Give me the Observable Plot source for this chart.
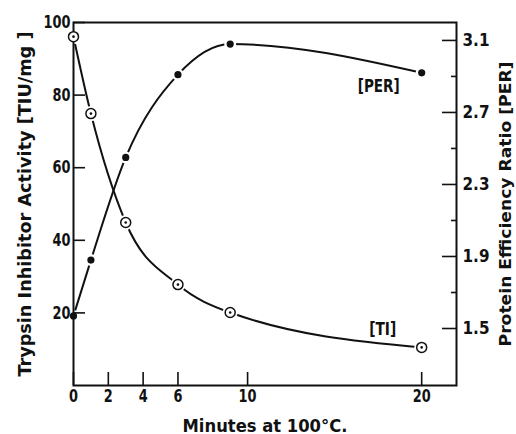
<!DOCTYPE html>
<html>
<head>
<meta charset="utf-8">
<script src="https://cdn.jsdelivr.net/npm/d3@7"></script>
<script src="https://cdn.jsdelivr.net/npm/@observablehq/plot@0.6"></script>
<style>
  html, body { margin: 0; padding: 0; background: #fff; }
  #chart svg { display: block; }
</style>
</head>
<body>
<div id="chart"></div>
<script>
// ---- data ----
const minutes = [0, 1, 3, 6, 9, 20];
const tiValues = [96.1, 74.9, 44.9, 27.8, 20.1, 10.5];      // TIU/mg (left axis)
const perValues = [1.57, 1.88, 2.45, 2.91, 3.08, 2.92];     // PER (right axis)
const xTicks = [0, 2, 4, 6, 10, 20];
const leftTicks = [20, 40, 60, 80, 100];
const perMajorTicks = [1.5, 1.9, 2.3, 2.7, 3.1];
const perMinorTicks = [1.7, 2.1, 2.5, 2.9];
const seriesLabels = ["[TI]", "[PER]"];
const xLabel = "Minutes at 100°C.";
const leftLabel = "Trypsin Inhibitor Activity [TIU/mg ]";
const rightLabel = "Protein Efficiency Ratio [PER]";

// right-axis (PER) scale expressed in left-axis units
const perBase = 1.5, perBaseLeft = 15.7, perPerUnit = 49.6;
const perToLeft = p => perBaseLeft + (p - perBase) * perPerUnit;
const leftToPer = v => perBase + (v - perBaseLeft) / perPerUnit;

const ti = minutes.map((m, i) => ({m, v: tiValues[i]}));
const per = minutes.map((m, i) => ({m, v: perToLeft(perValues[i])}));
const lastTI = [ti[ti.length - 1]];
const lastPER = [per[per.length - 1]];

const FONT = "'DejaVu Sans Condensed', 'Liberation Sans Narrow', 'DejaVu Sans', sans-serif";

const chart = Plot.plot({
  width: 516,
  height: 434,
  marginLeft: 73,
  marginRight: 60,
  marginTop: 22,
  marginBottom: 49,
  style: {fontFamily: FONT, fontSize: "18px", fontWeight: "bold", color: "#111", background: "#fff"},
  x: {domain: [0, 22]},
  y: {domain: [0, 100]},
  marks: [
    // curves
    Plot.line(ti, {x: "m", y: "v", curve: "monotone-x", stroke: "#111", strokeWidth: 2}),
    Plot.line(per, {x: "m", y: "v", curve: "monotone-x", stroke: "#111", strokeWidth: 2}),
    // white halos around the markers (gaps in the curves)
    Plot.dot(ti, {x: "m", y: "v", r: 7.5, fill: "#fff", stroke: "none"}),
    Plot.dot(per, {x: "m", y: "v", r: 6, fill: "#fff", stroke: "none"}),
    Plot.frame({stroke: "#111", strokeWidth: 2}),
    // axes
    Plot.axisX({ticks: xTicks, tickSize: -13, tickPadding: 17, tickFormat: d => String(d), strokeWidth: 1.6, label: null, fontSize: 18, className: "tk"}),
    Plot.axisY({ticks: leftTicks, tickSize: -12, tickPadding: 15, tickFormat: d => String(d), strokeWidth: 1.6, label: null, fontSize: 18, className: "tk"}),
    Plot.axisY({anchor: "right", ticks: perMajorTicks.map(perToLeft), tickSize: -15, tickPadding: 21,
      tickFormat: v => leftToPer(v).toFixed(1), strokeWidth: 1.6, label: null, fontSize: 18, className: "tk"}),
    Plot.axisY({anchor: "right", ticks: perMinorTicks.map(perToLeft), tickSize: -6, tickPadding: 0,
      tickFormat: () => "", strokeWidth: 1.6, label: null}),
    // markers
    Plot.dot(ti, {x: "m", y: "v", r: 5, fill: "#fff", stroke: "#111", strokeWidth: 1.5}),
    Plot.dot(ti, {x: "m", y: "v", r: 1.3, fill: "#111", stroke: "none"}),
    Plot.dot(per, {x: "m", y: "v", r: 3.6, fill: "#111", stroke: "none"}),
    // series labels, placed relative to the last point of each series
    Plot.text(lastTI, {x: "m", y: "v", text: () => seriesLabels[0], dx: -39, dy: -18, fontSize: 17, className: "lab-ti"}),
    Plot.text(lastPER, {x: "m", y: "v", text: () => seriesLabels[1], dx: -43, dy: 14, fontSize: 17, className: "lab-per"}),
    // axis titles
    Plot.text([xLabel], {frameAnchor: "bottom", dy: 46, textAnchor: "middle", text: d => d, fontSize: 17, className: "xlab"}),
    Plot.text([leftLabel], {frameAnchor: "left", dx: -48, rotate: -90, textAnchor: "middle", text: d => d, fontSize: 17, className: "ylab-l"}),
    Plot.text([rightLabel], {frameAnchor: "right", dx: 49, rotate: -90, textAnchor: "middle", text: d => d, fontSize: 16, className: "ylab-r"})
  ]
});

document.getElementById("chart").appendChild(chart);
// squeeze the lettering along its baseline to the condensed widths of the original
function fit(el, len) {
  const natural = el.getComputedTextLength();
  if (!natural) return;
  const t = el.getAttribute("transform") || "";
  el.setAttribute("transform", `${t} scale(${(len / natural).toFixed(4)},1)`);
}
const fitSel = (sel, len) => d3.select(chart).selectAll(sel).each(function () { fit(this, len); });
fitSel(".xlab text", 165);
fitSel(".ylab-l text", 345);
fitSel(".ylab-r text", 285);
fitSel(".lab-per text", 42);
fitSel(".lab-ti text", 27);
d3.select(chart).selectAll(".tk text").each(function () {
  fit(this, this.textContent.length * 9);
});
</script>
</body>
</html>
